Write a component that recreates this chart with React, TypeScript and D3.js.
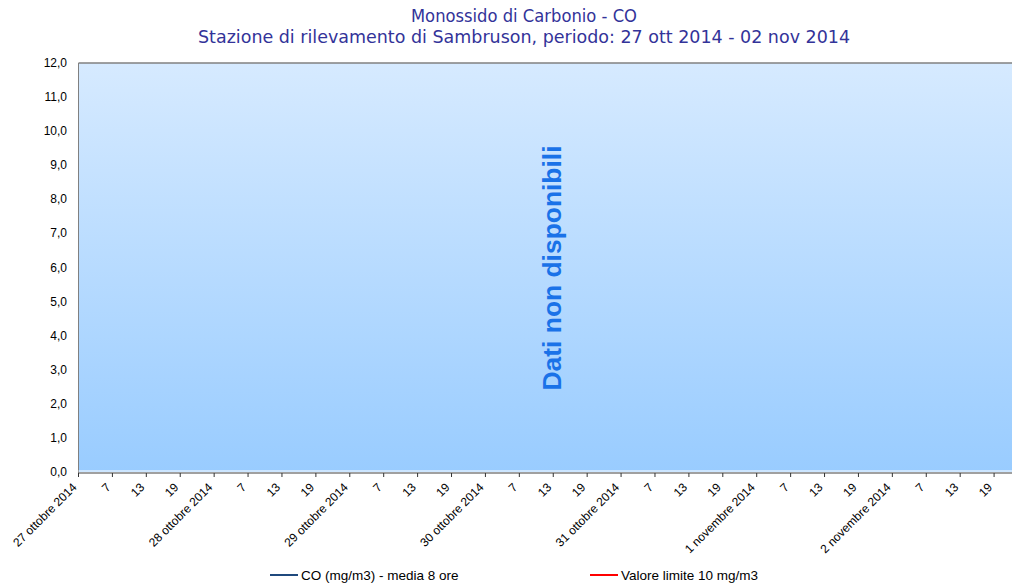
import React from "react";
import * as d3 from "d3";

const yTicks = [0, 1, 2, 3, 4, 5, 6, 7, 8, 9, 10, 11, 12];
const dayLabels = [
  "27 ottobre 2014",
  "28 ottobre 2014",
  "29 ottobre 2014",
  "30 ottobre 2014",
  "31 ottobre 2014",
  "1 novembre 2014",
  "2 novembre 2014",
];
const hourLabels = ["7", "13", "19"];
const legendItems = [
  { label: "CO (mg/m3) - media 8 ore", color: "#1f497d" },
  { label: "Valore limite 10 mg/m3", color: "#ff0000" },
];
const titleLines = [
  "Monossido di Carbonio - CO",
  "Stazione di rilevamento di Sambruson, periodo: 27 ott 2014 - 02 nov 2014",
];
const titleWidths = [226, 652];
const noDataText = "Dati non disponibili";

const W = 1012;
const H = 584;
const left = 78.5;
const top = 63;
const bottom = 472;
const right = 1028;

export default function App() {
  const x = d3.scaleLinear().domain([0, 168]).range([left, right]);
  const y = d3.scaleLinear().domain([0, 12]).range([bottom, top]);

  const ticks: { h: number; label: string }[] = [];
  dayLabels.forEach((d, i) => {
    ticks.push({ h: i * 24, label: d });
    hourLabels.forEach((hl, j) => ticks.push({ h: i * 24 + (j + 1) * 6, label: hl }));
  });

  const font = "Arial, 'Liberation Sans', sans-serif";

  return (
    <svg
      width={W}
      height={H}
      style={{ position: "absolute", left: 0, top: 0, background: "#fff" }}
    >
      <defs>
        <linearGradient id="bg" x1="0" y1="0" x2="0" y2="1">
          <stop offset="0" stopColor="#d6eaff" />
          <stop offset="1" stopColor="#99ccff" />
        </linearGradient>
      </defs>
      {titleLines.map((t, i) => (
        <text
          key={i}
          x={524}
          y={22 + i * 21}
          textAnchor="middle"
          fontFamily="Tahoma, 'DejaVu Sans Condensed', 'DejaVu Sans', sans-serif"
          fontSize={18}
          textLength={titleWidths[i]}
          lengthAdjust="spacingAndGlyphs"
          fill="#333399"
        >
          {t}
        </text>
      ))}
      <rect x={left} y={top} width={right - left} height={bottom - top} fill="url(#bg)" />
      <line x1={left} x2={right} y1={top} y2={top} stroke="#808080" strokeWidth={1.5} />
      <line x1={left} x2={left} y1={top} y2={bottom + 1} stroke="#808080" strokeWidth={1} />
      <line x1={left} x2={right} y1={bottom - 1} y2={bottom - 1} stroke="#ffffff" strokeWidth={1} />
      <line x1={left} x2={right} y1={bottom + 1} y2={bottom + 1} stroke="#808080" strokeWidth={1.5} />
      {yTicks.map((v) => (
        <text
          key={v}
          x={67}
          y={y(v) + 4}
          textAnchor="end"
          fontFamily={font}
          fontSize={12}
          fill="#000"
        >
          {v.toFixed(1).replace(".", ",")}
        </text>
      ))}
      {ticks.map((t, i) => (
        <g key={i}>
          <line
            x1={x(t.h)}
            x2={x(t.h)}
            y1={bottom + 1}
            y2={bottom + 5}
            stroke="#333"
            strokeWidth={1}
          />
          <text
            transform={`translate(${x(t.h) - 1},${bottom + 16}) rotate(-45)`}
            textAnchor="end"
            fontFamily={font}
            fontSize={12}
            fill="#000"
          >
            {t.label}
          </text>
        </g>
      ))}
      <text
        transform={`translate(${561},${268}) rotate(-90)`}
        textAnchor="middle"
        fontFamily={font}
        fontWeight="bold"
        fontSize={26}
        textLength={245}
        lengthAdjust="spacingAndGlyphs"
        fill="#1a72e8"
      >
        {noDataText}
      </text>
      {legendItems.map((it, i) => {
        const lx = 270 + i * 320;
        return (
          <g key={i}>
            <line x1={lx} x2={lx + 28} y1={575} y2={575} stroke={it.color} strokeWidth={2} />
            <text x={lx + 31} y={580} fontFamily={font} fontSize={13.5} fill="#000">
              {it.label}
            </text>
          </g>
        );
      })}
    </svg>
  );
}
